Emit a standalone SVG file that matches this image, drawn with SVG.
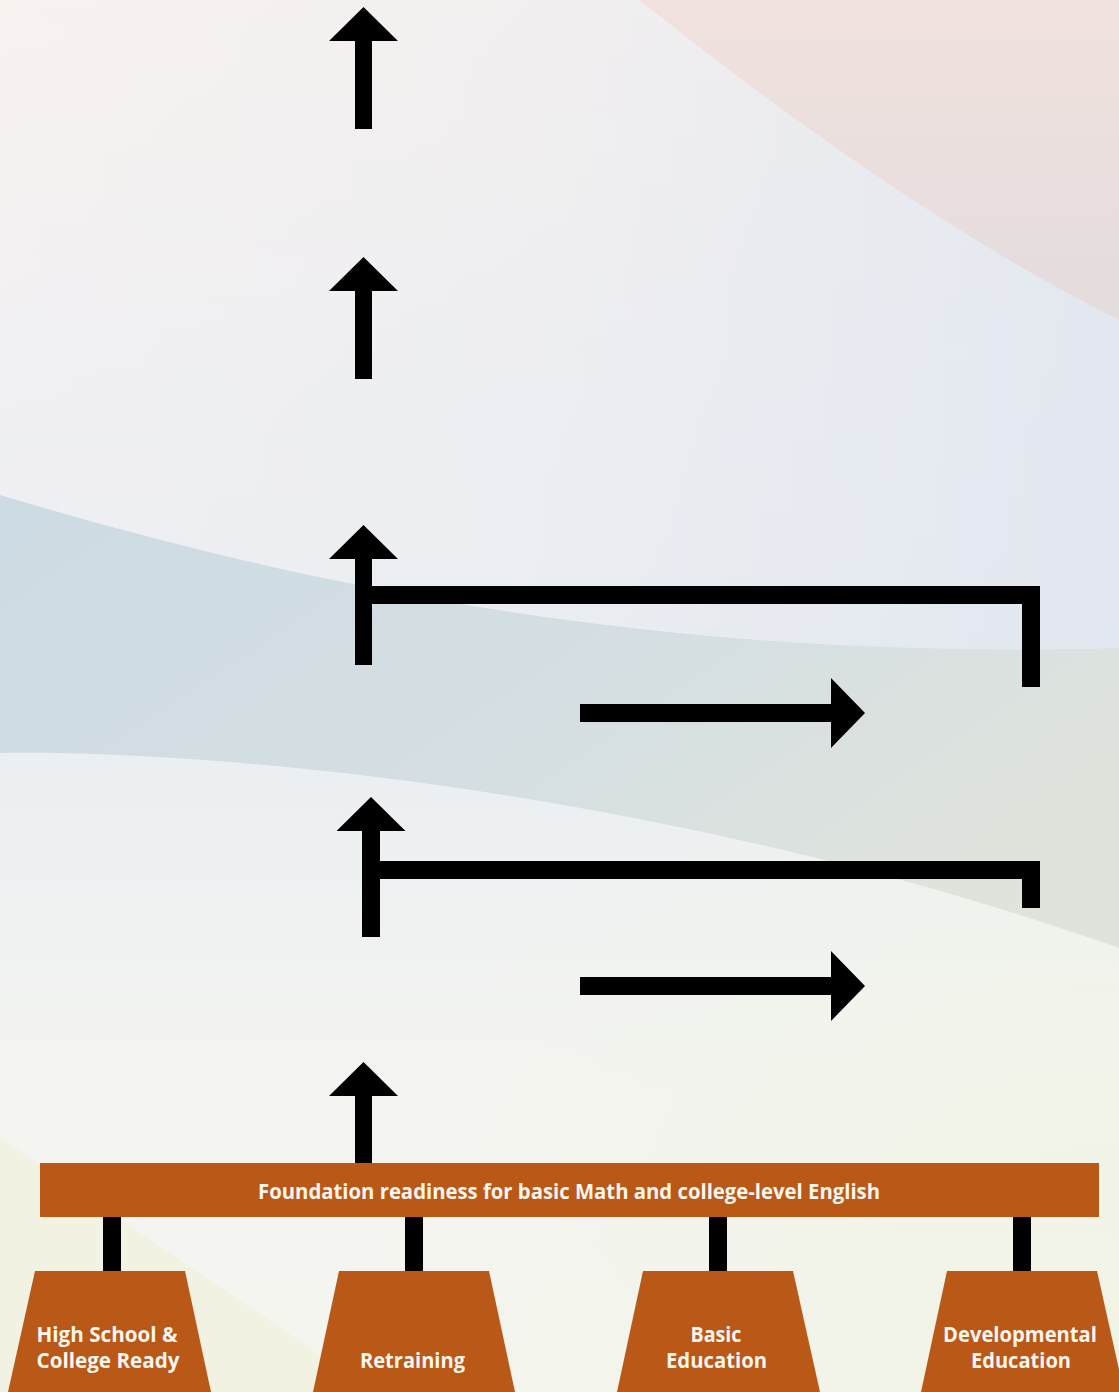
<svg xmlns="http://www.w3.org/2000/svg" width="1119" height="1392" viewBox="0 0 1119 1392">
<defs>
<linearGradient id="bgV" x1="0" y1="0" x2="0" y2="1">
<stop offset="0" stop-color="#f8f2ef"/>
<stop offset="0.3" stop-color="#f0f0f3"/>
<stop offset="0.55" stop-color="#ebeff2"/>
<stop offset="0.75" stop-color="#f3f4f1"/>
<stop offset="1" stop-color="#f4f5ee"/>
</linearGradient>
<linearGradient id="bgH" x1="0" y1="0" x2="1" y2="0">
<stop offset="0" stop-color="#e0e6ef" stop-opacity="0"/>
<stop offset="0.5" stop-color="#e0e6ef" stop-opacity="0.25"/>
<stop offset="1" stop-color="#dfe5ef" stop-opacity="0.8"/>
</linearGradient>
<radialGradient id="bgL" gradientUnits="userSpaceOnUse" cx="1119" cy="1392" r="750">
<stop offset="0" stop-color="#f1f3e2" stop-opacity="0.8"/>
<stop offset="1" stop-color="#f1f3e2" stop-opacity="0"/>
</radialGradient>
<linearGradient id="pink" x1="0" y1="0" x2="0" y2="1">
<stop offset="0" stop-color="#f1e2de"/>
<stop offset="1" stop-color="#e3dcdd"/>
</linearGradient>
<linearGradient id="band" x1="0" y1="0" x2="1" y2="0.6">
<stop offset="0" stop-color="#cddbe4"/>
<stop offset="0.6" stop-color="#d5dfe2"/>
<stop offset="1" stop-color="#dfe3dc"/>
</linearGradient>
<style>
.node{fill:#b95817}
.conn{fill:#000}
.lbl{font-family:"Open Sans","Noto Sans","Liberation Sans",sans-serif;font-weight:700;font-size:21px;fill:#fcf6ef;text-anchor:middle}
</style>
</defs>
<g id="background">
<rect x="0" y="0" width="1119" height="1392" fill="url(#bgV)"/>
<rect x="0" y="0" width="1119" height="700" fill="url(#bgH)"/>
<rect x="0" y="0" width="1119" height="1392" fill="url(#bgL)"/>
<path d="M639,0 C760,95 930,225 1119,320 L1119,0 Z" fill="url(#pink)"/>
<path d="M0,495 C350,600 700,660 1119,648 L1119,948 C700,800 250,750 0,753 Z" fill="url(#band)"/>
<path d="M0,1138 L375,1392 L0,1392 Z" fill="#f1f2e2"/>
</g>
<g id="connectors">
<polygon class="conn" points="363.5,7 398,41 372,41 372,129 355,129 355,41 329,41"/>
<polygon class="conn" points="363.5,257 398,291 372,291 372,379 355,379 355,291 329,291"/>
<polygon class="conn" points="363.5,525 398,559 372,559 372,665 355,665 355,559 329,559"/>
<polygon class="conn" points="372,586 1040,586 1040,687 1022,687 1022,604 372,604"/>
<polygon class="conn" points="580,704 831,704 831,678 865,713 831,748 831,722 580,722"/>
<polygon class="conn" points="371,797 405.5,831 380,831 380,937 362,937 362,831 336.5,831"/>
<polygon class="conn" points="380,861 1040,861 1040,908 1022,908 1022,879 380,879"/>
<polygon class="conn" points="580,977 831,977 831,951 865,986 831,1021 831,995 580,995"/>
<polygon class="conn" points="363.5,1062 398,1096 372,1096 372,1164 355,1164 355,1096 329,1096"/>
<rect class="conn" x="103" y="1217" width="18" height="55"/>
<rect class="conn" x="405" y="1217" width="18" height="55"/>
<rect class="conn" x="709" y="1217" width="18" height="55"/>
<rect class="conn" x="1013" y="1217" width="18" height="55"/>
</g>
<g id="node-foundation">
<rect class="node" x="40" y="1163" width="1059" height="54"/>
<text class="lbl" x="569" y="1199" textLength="622" lengthAdjust="spacingAndGlyphs">Foundation readiness for basic Math and college-level English</text>
</g>
<g id="node-highschool">
<polygon class="node" points="35,1271 185,1271 211,1392 8,1392"/>
<text class="lbl" x="107" y="1342" textLength="141" lengthAdjust="spacingAndGlyphs">High School &amp;</text>
<text class="lbl" x="108" y="1368" textLength="143" lengthAdjust="spacingAndGlyphs">College Ready</text>
</g>
<g id="node-retraining">
<polygon class="node" points="339,1271 489,1271 515,1392 313,1392"/>
<text class="lbl" x="412.5" y="1368" textLength="105" lengthAdjust="spacingAndGlyphs">Retraining</text>
</g>
<g id="node-basic">
<polygon class="node" points="643,1271 793,1271 820,1392 617,1392"/>
<text class="lbl" x="716" y="1342" textLength="51" lengthAdjust="spacingAndGlyphs">Basic</text>
<text class="lbl" x="716.5" y="1368" textLength="101" lengthAdjust="spacingAndGlyphs">Education</text>
</g>
<g id="node-developmental">
<polygon class="node" points="947,1271 1097,1271 1124,1392 921,1392"/>
<text class="lbl" x="1020" y="1342" textLength="154" lengthAdjust="spacingAndGlyphs">Developmental</text>
<text class="lbl" x="1021" y="1368" textLength="100" lengthAdjust="spacingAndGlyphs">Education</text>
</g>
</svg>
